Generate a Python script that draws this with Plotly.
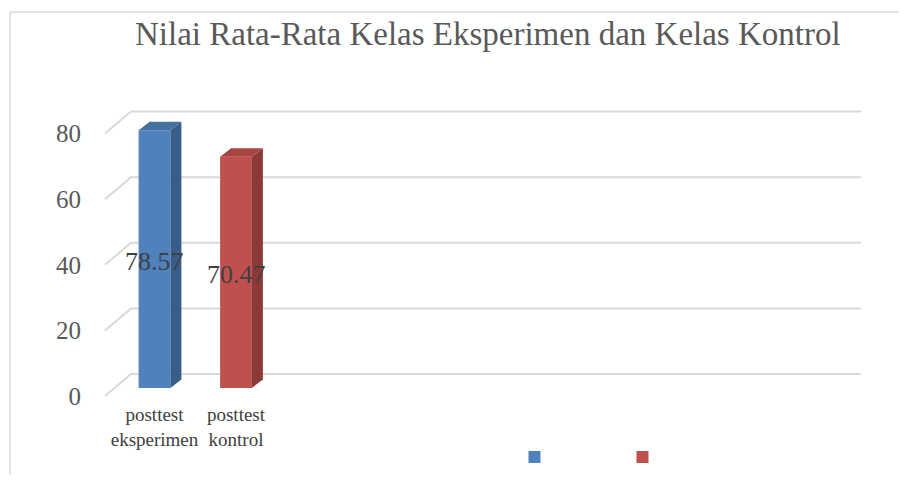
import plotly.graph_objects as go

# ---- data ----
categories = ["posttest<br>eksperimen", "posttest<br>kontrol"]
values = [78.57, 70.47]
value_labels = ["78.57", "70.47"]
series_names = ["", ""]
front_colors = ["#4F81BD", "#C0504D"]
side_colors = ["#385D8A", "#8C3A38"]
top_colors = ["#44709F", "#A64542"]
ticks = [0, 20, 40, 60, 80]
title = "Nilai Rata-Rata Kelas Eksperimen dan Kelas Kontrol"

PAGE_OFF = 8           # default page body margin
W, H = 907 - 2 * PAGE_OFF, 482 - 2 * PAGE_OFF
CAT_PX = 81.5          # pixels per category
FIRST_PX = 154.5       # pixel x of first bar centre
X_LEFT_PX, X_RIGHT_PX = 100, 866
Y0_PX = 388            # pixel y of value 0 (bar plane)
Y0_FRONT_PX = 396      # pixel y of value 0 (front edge, tick labels)
PX_PER_UNIT = 3.28
Y_MIN, Y_MAX = -4.0, 88.0

def fx(px):  # paper fraction x for a screen pixel
    return (px - PAGE_OFF) / W

def fy(py):  # paper fraction y (from bottom) for a screen pixel
    return (H - (py - PAGE_OFF)) / H

x_range = [(X_LEFT_PX - FIRST_PX) / CAT_PX, (X_RIGHT_PX - FIRST_PX) / CAT_PX]
x_dom = [fx(X_LEFT_PX), fx(X_RIGHT_PX)]
bar_y_dom = [fy(Y0_PX - Y_MIN * PX_PER_UNIT), fy(Y0_PX - Y_MAX * PX_PER_UNIT)]
front_y_dom = [fy(Y0_FRONT_PX - Y_MIN * PX_PER_UNIT), fy(Y0_FRONT_PX - Y_MAX * PX_PER_UNIT)]

BAR_W = 0.39
DX = 11 / CAT_PX            # depth offset in category units
DY = 8.5 / PX_PER_UNIT      # depth offset in value units
BACK_DY = (Y0_FRONT_PX - 374) / PX_PER_UNIT  # back wall offset vs front edge
BACK_X = (131 - FIRST_PX) / CAT_PX
FRONT_X = (105 - FIRST_PX) / CAT_PX
RIGHT_X = (861 - FIRST_PX) / CAT_PX

fig = go.Figure()

# ---- subplot 1 (x, y): wall gridlines + value axis labels (front edge) ----
gx, gy = [], []
for t in ticks:
    gx += [FRONT_X, BACK_X, RIGHT_X, None]
    gy += [t, t + BACK_DY, t + BACK_DY, None]
fig.add_trace(go.Scatter(x=gx, y=gy, mode="lines", xaxis="x", yaxis="y",
                         line=dict(color="#D9D9D9", width=2),
                         hoverinfo="skip", showlegend=False))

# ---- subplot 2 (x2, y2): bars ----
for i, (v, name) in enumerate(zip(values, series_names)):
    xl, xr = i - BAR_W / 2, i + BAR_W / 2
    fig.add_trace(go.Bar(x=[i], y=[v], width=BAR_W, name=name, xaxis="x2", yaxis="y2",
                         marker=dict(color=front_colors[i], line=dict(width=0)),
                         showlegend=True))
    fig.add_trace(go.Scatter(x=[xr, xr + DX, xr + DX, xr, xr],
                             y=[0, DY, v + DY, v, 0], xaxis="x2", yaxis="y2",
                             mode="lines", fill="toself",
                             fillcolor=side_colors[i], line=dict(width=0),
                             hoverinfo="skip", showlegend=False))
    fig.add_trace(go.Scatter(x=[xl, xr, xr + DX, xl + DX, xl],
                             y=[v, v, v + DY, v + DY, v], xaxis="x2", yaxis="y2",
                             mode="lines", fill="toself",
                             fillcolor=top_colors[i], line=dict(width=0),
                             hoverinfo="skip", showlegend=False))

# data labels at mid-height of each bar
annotations = [dict(text=lab, x=i, y=v / 2, xref="x2", yref="y2", showarrow=False,
                    xanchor="center", yanchor="middle", yshift=-2,
                    font=dict(family="Liberation Serif", size=26, color="#404040"))
               for i, (v, lab) in enumerate(zip(values, value_labels))]
annotations.append(dict(text=title, x=fx(487.5), y=fy(34.5), xref="paper", yref="paper",
                        xanchor="center", yanchor="middle", showarrow=False,
                        font=dict(family="Liberation Serif", size=33, color="#595959")))

hidden = dict(showgrid=False, zeroline=False, showline=False, ticks="", automargin=False)

fig.update_layout(
    width=W, height=H,
    margin=dict(l=0, r=0, t=0, b=0, autoexpand=False),
    paper_bgcolor="white", plot_bgcolor="rgba(0,0,0,0)",
    barmode="overlay",
    showlegend=True,
    legend=dict(orientation="h", x=fx(514.5), y=fy(457), yanchor="middle", xanchor="left",
                entrywidth=63, entrywidthmode="pixels",
                font=dict(size=12), bgcolor="rgba(0,0,0,0)"),
    xaxis=dict(domain=x_dom, range=x_range, anchor="y", showticklabels=False, **hidden),
    yaxis=dict(domain=front_y_dom, range=[Y_MIN, Y_MAX], anchor="x", tickvals=ticks,
               tickfont=dict(family="Liberation Serif", size=25, color="#595959"),
               ticklabelstandoff=18, **hidden),
    xaxis2=dict(domain=x_dom, range=x_range, anchor="y2",
                tickvals=list(range(len(categories))), ticktext=categories,
                tickfont=dict(family="Liberation Serif", size=19, color="#404040"),
                ticklabelstandoff=0, **hidden),
    yaxis2=dict(domain=bar_y_dom, range=[Y_MIN, Y_MAX], anchor="x2",
                showticklabels=False, **hidden),
    annotations=annotations,
    shapes=[dict(type="line", xref="paper", yref="paper", x0=fx(10), x1=1.0, y0=fy(12), y1=fy(12),
                 line=dict(color="#D9D9D9", width=1.5)),
            dict(type="line", xref="paper", yref="paper", x0=fx(10), x1=fx(10), y0=fy(12), y1=0.0,
                 line=dict(color="#D9D9D9", width=1.5))],
)

fig.write_html("out.html", config={"displayModeBar": False})
